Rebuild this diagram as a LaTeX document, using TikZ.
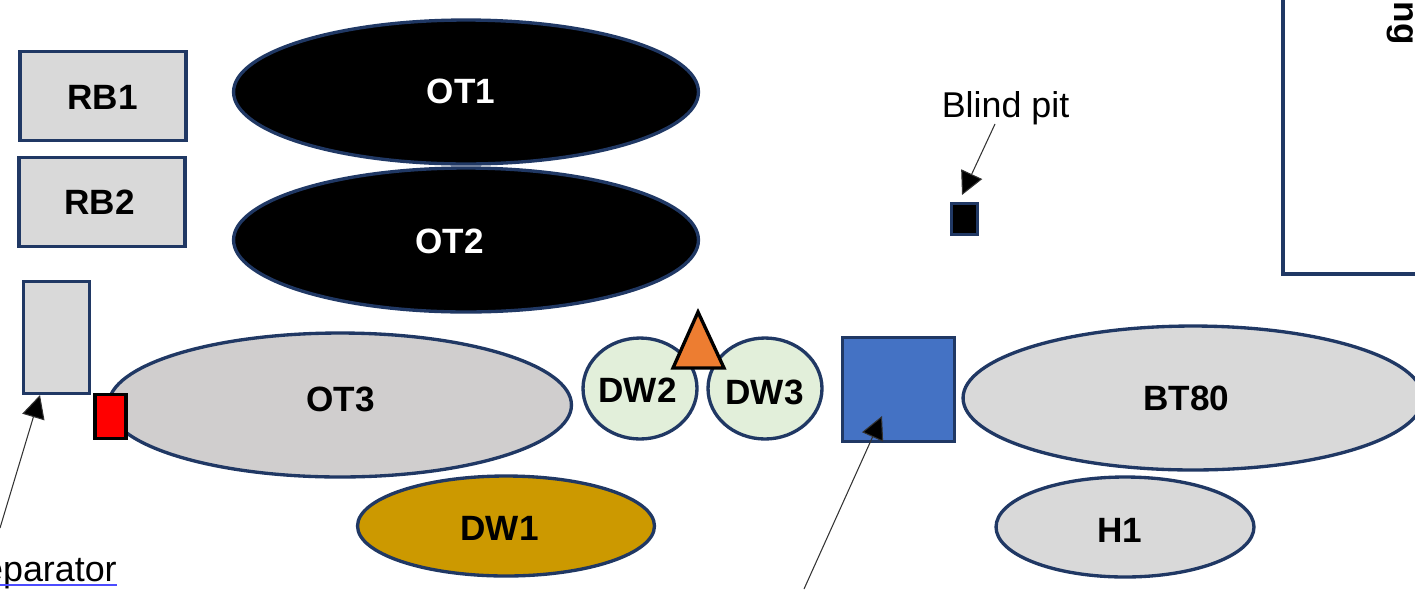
\documentclass[tikz,border=0pt]{standalone}
\usepackage{fontspec}
\setmainfont{Liberation Sans}
\usetikzlibrary{shapes.geometric,arrows.meta}
\definecolor{navy}{HTML}{203864}
\definecolor{boxgray}{HTML}{D9D9D9}
\definecolor{tankgray}{HTML}{D0CECE}
\definecolor{gold}{HTML}{CC9900}
\definecolor{palegreen}{HTML}{E2EFDA}
\definecolor{pumpblue}{HTML}{4472C4}
\definecolor{coneorange}{HTML}{ED7D31}

\begin{document}
\begin{tikzpicture}[
    x=0.02cm,y=-0.02cm,
    box/.style={rectangle,draw=navy,line width=1.9pt,inner sep=0pt},
    tank/.style={ellipse,draw=navy,line width=1.9pt,inner sep=0pt},
    heavy/.style={font={\fontsize{20}{24}\selectfont\bfseries}},
    plain/.style={font={\fontsize{20.4}{24}\selectfont}},
    pointer/.style={-{Triangle[length=0.46cm,width=0.46cm,fill=black]},line width=0.6pt,black!80}]

    \useasboundingbox (0,0) rectangle (1415,589);
    \clip (0,0) rectangle (1415,589);

    % right hand box, runs off the page
    \draw[navy,line width=1.9pt] (1283,-10) |- (1425,274);
    \node[heavy,rotate=-90,anchor=east,inner sep=0pt] (NGlabel) at (1400,45) {ng};

    \node[box,fill=boxgray,minimum width=3.32cm,minimum height=1.78cm] (RBone) at (103,96) {};
    \node[box,fill=boxgray,minimum width=3.32cm,minimum height=1.78cm] (RBtwo) at (102,202) {};
    \node[box,fill=boxgray,minimum width=1.32cm,minimum height=2.24cm] (Sep) at (56.5,337.5) {};

    \node[tank,fill=black,minimum width=9.3cm,minimum height=2.88cm] (OTone) at (466,92) {};
    \node[tank,fill=black,minimum width=9.3cm,minimum height=2.88cm] (OTtwo) at (466,240) {};
    \node[tank,fill=tankgray,minimum width=9.26cm,minimum height=2.88cm] (OTthree) at (340,405) {};
    \node[tank,fill=gold,minimum width=5.94cm,minimum height=2cm] (DWone) at (506,526) {};
    \node[tank,fill=palegreen,minimum width=2.28cm,minimum height=2.02cm] (DWtwo) at (640,388.5) {};
    \node[tank,fill=palegreen,minimum width=2.28cm,minimum height=2.02cm] (DWthree) at (765,388.5) {};
    \node[tank,fill=boxgray,minimum width=9.2cm,minimum height=2.88cm] (BT) at (1193,398) {};
    \node[tank,fill=boxgray,minimum width=5.16cm,minimum height=2cm] (Hone) at (1125,527) {};

    \node[rectangle,draw=black,line width=1.9pt,fill=red,inner sep=0pt,minimum width=0.62cm,minimum height=0.88cm] (Redbox) at (110.5,416.5) {};
    \node[box,fill=pumpblue,minimum width=2.24cm,minimum height=2.08cm] (Bluebox) at (898.5,389.5) {};
    \node[box,fill=black,minimum width=0.52cm,minimum height=0.62cm] (Pit) at (964.5,219) {};

    \filldraw[fill=coneorange,draw=black,line width=1.9pt] (673,368) -- (698,312) -- (724,368) -- cycle;

    \path[heavy] (102.5,97) node (RBonetext) {RB1}
                 (99.5,202) node (RBtwotext) {RB2}
                 (340.5,399) node (OTthreetext) {OT3}
                 (499.5,528) node (DWonetext) {DW1}
                 (637.5,390) node (DWtwotext) {DW2}
                 (764.5,392) node (DWthreetext) {DW3}
                 (1186.5,398) node (BTtext) {BT80}
                 (1120,530) node (Honetext) {H1};
    \path[heavy,white] (461,91) node (OTonetext) {OT1}
                       (449.5,241) node (OTtwotext) {OT2};

    \node[plain] (Blind) at (1005.5,108) {Blind pit};
    \node[plain,anchor=east,inner xsep=0pt] (Seplabel) at (117,574) {eparator};
    \draw[blue!70!white,line width=0.6pt] (0,585) -- (117,585);

    \coordinate (Blindstart) at (995,124);
    \coordinate (Blindend) at (962,195);
    \coordinate (Sepstart) at (0,528);
    \coordinate (Sepend) at (40,395);
    \coordinate (Bluestart) at (804,589);
    \coordinate (Blueend) at (882,416);

    \draw[pointer] (Blindstart) -- (Blindend);
    \draw[pointer] (Sepstart) -- (Sepend);
    \draw[pointer] (Bluestart) -- (Blueend);

\end{tikzpicture}
\end{document}
